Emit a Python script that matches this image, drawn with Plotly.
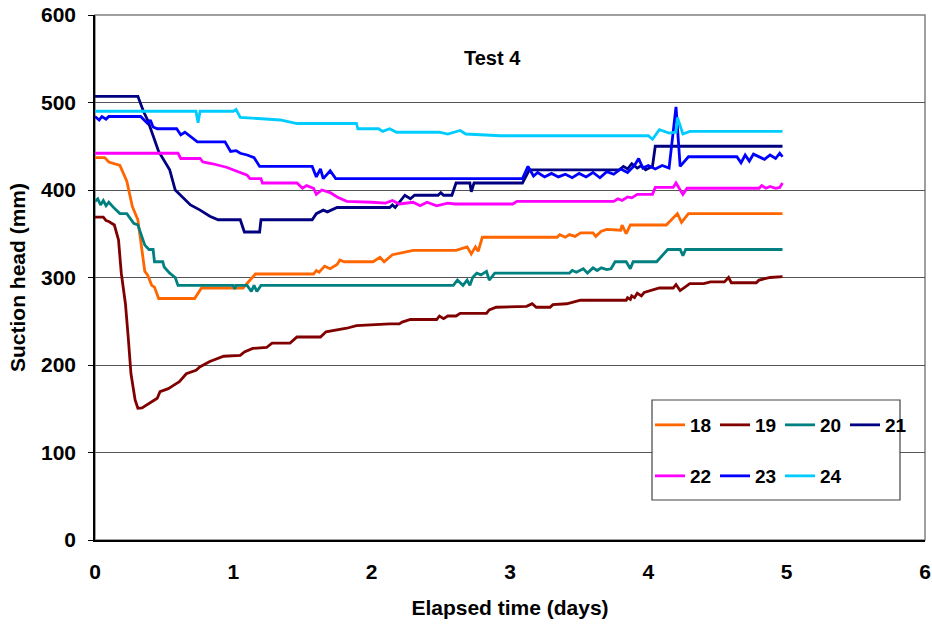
import plotly.graph_objects as go

# ---------------- data ----------------
t18 = [0, 0.07, 0.1, 0.14, 0.18, 0.23, 0.27, 0.31, 0.36, 0.38, 0.41, 0.43, 0.46, 0.72, 0.77, 1.07, 1.1, 1.16,
       1.58, 1.6, 1.62, 1.66, 1.7, 1.75, 1.77, 1.8, 2.01, 2.06, 2.09, 2.15, 2.3, 2.61, 2.69, 2.72, 2.75, 2.77,
       2.8, 3.34, 3.36, 3.4, 3.43, 3.47, 3.51, 3.6, 3.62, 3.66, 3.7, 3.8, 3.81, 3.84, 3.87, 4.13, 4.21, 4.24,
       4.29, 4.97]
v18 = [437, 437, 432, 430, 428, 410, 381, 366, 307, 303, 291, 289, 276, 276, 288, 288, 293, 304,
       304, 308, 306, 313, 310, 315, 320, 318, 318, 323, 318, 326, 331, 331, 335, 327, 335, 330,
       346, 346, 349, 346, 349, 347, 351, 351, 347, 353, 355, 354, 360, 350, 360, 360, 373, 363,
       373, 373]

t19 = [0, 0.06, 0.08, 0.1, 0.14, 0.17, 0.19, 0.22, 0.24, 0.26, 0.29, 0.31, 0.34, 0.37, 0.41, 0.45, 0.47,
       0.53, 0.57, 0.61, 0.66, 0.73, 0.76, 0.83, 0.93, 1.05, 1.08, 1.14, 1.24, 1.28, 1.41, 1.46, 1.63, 1.67,
       1.82, 1.89, 2.13, 2.2, 2.22, 2.28, 2.47, 2.49, 2.52, 2.55, 2.61, 2.64, 2.83, 2.85, 2.9, 3.12, 3.16,
       3.19, 3.29, 3.31, 3.41, 3.46, 3.51, 3.84, 3.85, 3.87, 3.88, 3.9, 3.92, 3.95, 3.97, 4.08, 4.18, 4.2,
       4.23, 4.3, 4.4, 4.45, 4.55, 4.58, 4.6, 4.78, 4.8, 4.88, 4.97]
v19 = [369, 369, 365, 364, 360, 343, 305, 270, 232, 190, 160, 150.5, 151, 154, 158, 162, 169.5,
       173, 177, 181, 190, 194, 198, 204, 210, 211, 215, 219, 220, 225, 225, 232, 232, 238,
       242, 245, 247, 247, 249, 252, 252, 256, 253, 256, 256, 259, 259, 263, 266, 267, 270,
       266, 266, 269, 270, 272, 274, 274, 277, 275, 279, 277, 282, 279, 283, 288, 288, 292,
       285, 293, 293, 295, 295, 300, 294, 294, 297, 300, 301]

t20 = [0, 0.02, 0.04, 0.06, 0.08, 0.1, 0.14, 0.18, 0.23, 0.28, 0.31, 0.34, 0.36, 0.39, 0.42, 0.43, 0.49,
       0.5, 0.54, 0.58, 0.6, 1.0, 1.01, 1.02, 1.1, 1.13, 1.15, 1.17, 1.2, 2.59, 2.62, 2.66, 2.69, 2.71,
       2.73, 2.76, 2.79, 2.81, 2.83, 2.85, 2.89, 3.43, 3.45, 3.48, 3.53, 3.56, 3.6, 3.63, 3.66, 3.7, 3.73,
       3.76, 3.84, 3.87, 3.89, 4.06, 4.14, 4.23, 4.25, 4.27, 4.97]
v20 = [387, 390, 383, 388, 382, 386, 379, 373, 373, 362, 360, 347, 337, 332, 332, 318, 318,
       312, 305, 300, 291, 291, 287, 291, 291, 284, 291, 284, 291, 291, 297, 291, 297, 291,
       300, 305, 303, 305, 307, 297, 305, 305, 308, 306, 310, 305, 311, 308, 311, 309, 310,
       318, 318, 310, 318, 318, 332, 332, 325, 332, 332]

t21 = [0, 0.31, 0.35, 0.38, 0.46, 0.54, 0.58, 0.69, 0.76, 0.83, 0.89, 1.05, 1.08, 1.19, 1.2, 1.57, 1.6,
       1.63, 1.65, 1.68, 1.75, 2.13, 2.15, 2.17, 2.24, 2.28, 2.31, 2.48, 2.5, 2.52, 2.58, 2.61, 2.71, 2.72,
       2.74, 3.09, 3.14, 3.79, 3.82, 3.85, 3.88, 3.92, 3.95, 3.98, 4.03, 4.05, 4.97]
v21 = [507, 507, 490, 480, 444, 423, 400, 383, 377, 370, 366, 366, 352, 352, 366, 366, 373,
       375, 377, 375, 380, 380, 383, 380, 394, 390, 394, 394, 397, 394, 394, 408, 408, 398,
       408, 408, 423, 423, 427, 424, 430, 425, 428, 423, 427, 450, 450]

t22 = [0, 0.6, 0.62, 0.76, 0.78, 0.85, 0.95, 1.05, 1.1, 1.12, 1.2, 1.21, 1.46, 1.5, 1.53, 1.58, 1.6, 1.64,
       1.7, 1.75, 1.82, 2.0, 2.1, 2.15, 2.2, 2.3, 2.35, 2.4, 2.47, 2.55, 2.6, 3.02, 3.05, 3.75, 3.78, 3.81,
       3.85, 3.88, 3.92, 4.03, 4.05, 4.18, 4.2, 4.25, 4.28, 4.8, 4.82, 4.85, 4.88, 4.92, 4.95, 4.97]
v22 = [442, 442, 436, 436, 432, 430, 426, 420, 417, 413, 413, 408, 408, 402, 405, 402, 395, 400,
       397, 392, 387, 386, 385, 388, 384, 386, 382, 386, 382, 385, 384, 384, 387, 387, 390, 388,
       392, 391, 395, 395, 403, 403, 408, 395, 402, 402, 405, 402, 404, 402, 403, 408]

t23 = [0, 0.03, 0.05, 0.08, 0.1, 0.33, 0.38, 0.4, 0.42, 0.45, 0.59, 0.62, 0.65, 0.68, 0.74, 0.94, 0.98,
       1.02, 1.05, 1.1, 1.15, 1.19, 1.57, 1.6, 1.63, 1.65, 1.7, 1.74, 3.09, 3.13, 3.17, 3.2, 3.25, 3.3,
       3.35, 3.4, 3.45, 3.5, 3.55, 3.6, 3.65, 3.7, 3.75, 3.8, 3.85, 3.9, 3.93, 3.96, 4.0, 4.05, 4.1, 4.15,
       4.2, 4.23, 4.29, 4.64, 4.67, 4.7, 4.73, 4.76, 4.8, 4.84, 4.88, 4.92, 4.95, 4.97]
v23 = [484, 480, 484, 481, 484, 484, 476, 480, 472, 470, 470, 463, 466, 462, 455, 455, 444,
       445, 442, 440, 437, 427, 427, 415, 424, 413, 422, 413, 413, 427, 416, 420, 415, 419,
       415, 418, 414, 419, 415, 420, 414, 421, 418, 424, 420, 428, 436, 425, 428, 424, 428, 425,
       495, 427, 438, 438, 431, 440, 433, 441, 438, 435, 440, 436, 442, 438]

t24 = [0, 0.73, 0.745, 0.76, 1.0, 1.02, 1.05, 1.34, 1.46, 1.89, 1.9, 2.05, 2.08, 2.13, 2.18, 2.49, 2.55,
       2.64, 2.68, 2.93, 4.0, 4.03, 4.08, 4.15, 4.2, 4.21, 4.25, 4.3, 4.97]
v24 = [490, 490, 477, 490, 490, 492, 483, 480, 476, 476, 470, 470, 467, 470, 466, 466, 464,
       468, 464, 462, 462, 458, 469, 465, 466, 483, 464, 467, 467]

series_names = ["18", "19", "20", "21", "22", "23", "24"]
series_t = [t18, t19, t20, t21, t22, t23, t24]
series_v = [v18, v19, v20, v21, v22, v23, v24]
colors = ["#FF6600", "#800000", "#008080", "#000080", "#FF00FF", "#0000FF", "#00CCFF"]
legend_ids = ["legend", "legend", "legend", "legend", "legend2", "legend2", "legend2"]

x_ticks = [0, 1, 2, 3, 4, 5, 6]
y_ticks = [0, 100, 200, 300, 400, 500, 600]
chart_title = "Test 4"
x_title = "Elapsed time (days)"
y_title = "Suction head (mm)"

# ---------------- figure ----------------
FONT = "Liberation Sans, Arial, sans-serif"
fig = go.Figure()
for name, t, v, c, lg in zip(series_names, series_t, series_v, colors, legend_ids):
    fig.add_trace(go.Scatter(x=t, y=v, mode="lines", name=f"<b>{name}</b>", legend=lg,
                             line=dict(color=c, width=2.8)))

W, H = 932, 626
ml, mr, mt, mb = 95, 7, 15, 86
pw, ph = W - ml - mr, H - mt - mb

def px(xp):
    return (xp - ml) / pw

def py(yp):
    return (H - mb - yp) / ph

legend_common = dict(orientation="h", bgcolor="rgba(0,0,0,0)", borderwidth=0,
                     font=dict(family=FONT, size=19, color="black"),
                     entrywidth=20, entrywidthmode="pixels",
                     xanchor="left", yanchor="middle", itemclick=False, tracegroupgap=0)

fig.update_layout(
    width=W, height=H,
    margin=dict(l=ml, r=mr, t=mt, b=mb, autoexpand=False),
    paper_bgcolor="white", plot_bgcolor="white",
    font=dict(family=FONT, color="black"),
    showlegend=True,
    legend=dict(x=px(650), y=py(425), **legend_common),
    legend2=dict(x=px(650), y=py(476), **legend_common),
    annotations=[dict(text=f"<b>{chart_title}</b>", x=px(492), y=py(58), xref="paper", yref="paper",
                      showarrow=False, font=dict(family=FONT, size=20, color="black"),
                      xanchor="center", yanchor="middle")],
    shapes=[
        dict(type="rect", xref="paper", yref="paper", x0=0, x1=1, y0=0, y1=1,
             line=dict(color="#808080", width=1.5), layer="below"),
        dict(type="rect", xref="paper", yref="paper", x0=px(652), x1=px(900), y0=py(500), y1=py(400),
             line=dict(color="#444444", width=1.2), fillcolor="white", layer="above"),
    ],
)
fig.update_xaxes(range=[0, 6], tickvals=x_ticks, ticktext=[f"<b>{v}</b>" for v in x_ticks],
                 showgrid=False, zeroline=False, showline=True, linecolor="black", linewidth=1.5,
                 ticks="", tickfont=dict(family=FONT, size=21, color="black"), ticklabelstandoff=12,
                 ticklabeloverflow="allow",
                 title=dict(text=f"<b>{x_title}</b>", font=dict(family=FONT, size=21, color="black"),
                            standoff=18))
fig.update_yaxes(range=[0, 600], tickvals=y_ticks, ticktext=[f"<b>{v}</b>" for v in y_ticks],
                 showgrid=True, gridcolor="#555555", gridwidth=1, zeroline=False,
                 showline=True, linecolor="black", linewidth=1.5,
                 ticks="outside", ticklen=5, tickcolor="black",
                 tickfont=dict(family=FONT, size=21, color="black"), ticklabelstandoff=8,
                 ticklabeloverflow="allow",
                 title=dict(text=f"<b>{y_title}</b>", font=dict(family=FONT, size=21, color="black"),
                            standoff=10))

# remove the default 8px page margin so the figure sits at the window origin
fig.write_html("out.html", config={"displayModeBar": False},
               post_script="document.body.style.margin='0';document.body.style.overflow='hidden';")
